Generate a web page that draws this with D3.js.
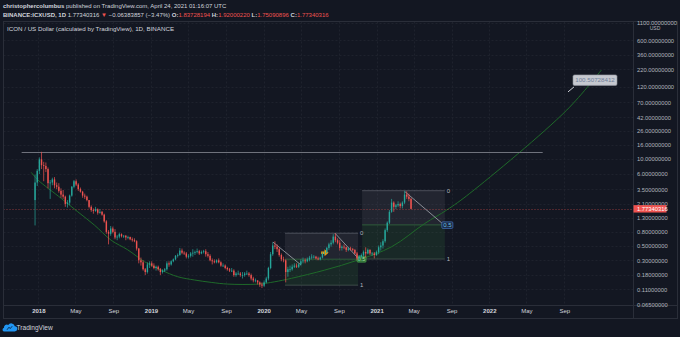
<!DOCTYPE html>
<html>
<head>
<meta charset="utf-8">
<script src="https://cdn.jsdelivr.net/npm/d3@7"></script>
<style>
  html, body { margin: 0; padding: 0; background: #131722; }
  svg { display: block; font-family: "Liberation Sans", Arial, sans-serif; }
</style>
</head>
<body>
<svg id="chart" width="680" height="337"></svg>
<script>
// ---------------- data: ICX/USD, weekly candles (Mon-start) ----------------
const firstWeek = "2017-12-18";
const firstOpen = 2.4;

const weekHigh = [
  5.8, 7.0,
  // 2018
  10.5, 12.7, 9.0, 8.8, 7.4,
  4.8, 5.2, 5.3, 4.4,
  4.3, 3.6, 3.4, 2.8,
  2.4, 2.9, 3.9, 4.8, 4.9,
  4.3, 3.7, 3.3, 3.0,
  2.8, 2.4, 2.0, 1.8,
  1.9, 1.8, 1.75, 1.65, 1.5,
  1.2, 0.85, 0.98, 0.96,
  0.88, 0.72, 0.78, 0.76,
  0.72, 0.72, 0.7, 0.68, 0.66,
  0.64, 0.6, 0.46, 0.33,
  0.3, 0.23, 0.28, 0.29, 0.29,
  // 2019
  0.27, 0.25, 0.25, 0.23,
  0.22, 0.23, 0.29, 0.29,
  0.3, 0.32, 0.36, 0.38,
  0.46, 0.45, 0.41, 0.4, 0.37,
  0.4, 0.44, 0.42, 0.45,
  0.43, 0.42, 0.43, 0.44,
  0.4, 0.37, 0.32, 0.31, 0.31,
  0.32, 0.29, 0.27, 0.26,
  0.24, 0.23, 0.23, 0.22, 0.2,
  0.21, 0.2, 0.2, 0.2,
  0.21, 0.2, 0.19, 0.17,
  0.16, 0.15, 0.145, 0.14, 0.15,
  // 2020
  0.17, 0.24, 0.4, 0.56,
  0.58, 0.52, 0.46, 0.38,
  0.34, 0.31, 0.24, 0.25, 0.26,
  0.27, 0.27, 0.27, 0.31,
  0.33, 0.32, 0.33, 0.35,
  0.37, 0.36, 0.35, 0.34, 0.34,
  0.4, 0.42, 0.48, 0.55,
  0.6, 0.74, 0.76, 0.64, 0.6,
  0.5, 0.52, 0.48, 0.47,
  0.48, 0.46, 0.44, 0.4,
  0.36, 0.38, 0.42, 0.47, 0.45,
  0.44, 0.4, 0.4, 0.42,
  // 2021
  0.5, 0.56, 0.62, 0.9,
  1.15, 1.7, 2.5, 2.3,
  2.1, 2.3, 2.2, 2.3, 3.3,
  3.25, 3.0, 2.6
];

const weekLow = [
  1.0, 3.9,
  // 2018
  5.9, 7.0, 4.6, 6.3, 3.6,
  2.5, 4.0, 3.6, 3.5,
  3.1, 2.6, 2.5, 1.9,
  1.85, 2.0, 2.7, 3.6, 3.9,
  3.3, 3.1, 2.6, 2.5,
  2.3, 1.8, 1.6, 1.5,
  1.6, 1.45, 1.5, 1.4, 1.1,
  0.75, 0.52, 0.7, 0.76,
  0.62, 0.6, 0.64, 0.66,
  0.65, 0.6, 0.62, 0.6, 0.57,
  0.56, 0.42, 0.27, 0.25,
  0.21, 0.18, 0.19, 0.23, 0.24,
  // 2019
  0.22, 0.21, 0.21, 0.18,
  0.19, 0.2, 0.21, 0.24,
  0.25, 0.28, 0.3, 0.33,
  0.35, 0.37, 0.36, 0.32, 0.32,
  0.33, 0.34, 0.36, 0.38,
  0.36, 0.37, 0.38, 0.34,
  0.33, 0.29, 0.26, 0.27, 0.27,
  0.27, 0.24, 0.24, 0.22,
  0.21, 0.2, 0.2, 0.17, 0.17,
  0.18, 0.17, 0.16, 0.17,
  0.18, 0.17, 0.15, 0.14,
  0.14, 0.13, 0.12, 0.115, 0.12,
  // 2020
  0.135, 0.15, 0.22, 0.35,
  0.44, 0.4, 0.34, 0.29,
  0.28, 0.14, 0.17, 0.2, 0.21,
  0.23, 0.23, 0.23, 0.25,
  0.27, 0.27, 0.28, 0.29,
  0.31, 0.32, 0.31, 0.3, 0.3,
  0.32, 0.36, 0.38, 0.43,
  0.48, 0.52, 0.56, 0.52, 0.42,
  0.42, 0.44, 0.4, 0.41,
  0.42, 0.41, 0.37, 0.3,
  0.29, 0.32, 0.34, 0.33, 0.37,
  0.36, 0.35, 0.32, 0.35,
  // 2021
  0.37, 0.42, 0.45, 0.55,
  0.8, 1.05, 1.55, 1.6,
  1.75, 1.9, 1.8, 1.8, 2.1,
  2.5, 2.3, 1.75
];

const weekClose = [
  4.4, 6.6,
  // 2018
  9.8, 8.0, 7.8, 7.0, 4.3,
  4.4, 4.9, 4.0, 3.8,
  3.3, 2.9, 2.7, 2.1,
  2.2, 2.8, 3.8, 4.6, 4.1,
  3.5, 3.2, 2.8, 2.7,
  2.4, 1.9, 1.7, 1.65,
  1.75, 1.55, 1.6, 1.45, 1.15,
  0.8, 0.75, 0.9, 0.8,
  0.66, 0.68, 0.74, 0.69,
  0.7, 0.66, 0.67, 0.62, 0.6,
  0.58, 0.45, 0.3, 0.28,
  0.22, 0.2, 0.26, 0.27, 0.25,
  // 2019
  0.23, 0.24, 0.22, 0.2,
  0.21, 0.22, 0.27, 0.26,
  0.29, 0.31, 0.35, 0.36,
  0.42, 0.39, 0.38, 0.34, 0.35,
  0.38, 0.39, 0.4, 0.41,
  0.38, 0.4, 0.41, 0.37,
  0.35, 0.3, 0.29, 0.28, 0.3,
  0.28, 0.25, 0.25, 0.23,
  0.22, 0.21, 0.21, 0.18, 0.19,
  0.19, 0.18, 0.18, 0.19,
  0.19, 0.18, 0.16, 0.15,
  0.15, 0.14, 0.13, 0.125, 0.14,
  // 2020
  0.16, 0.23, 0.37, 0.5,
  0.48, 0.44, 0.36, 0.31,
  0.3, 0.2, 0.22, 0.22, 0.24,
  0.25, 0.24, 0.26, 0.29,
  0.3, 0.29, 0.31, 0.33,
  0.34, 0.34, 0.32, 0.31, 0.33,
  0.38, 0.39, 0.46, 0.52,
  0.55, 0.68, 0.6, 0.55, 0.46,
  0.48, 0.47, 0.43, 0.45,
  0.44, 0.43, 0.38, 0.32,
  0.34, 0.36, 0.4, 0.38, 0.43,
  0.38, 0.38, 0.36, 0.4,
  // 2021
  0.47, 0.5, 0.58, 0.85,
  1.1, 1.6, 2.2, 1.9,
  2.0, 2.1, 1.95, 2.2, 2.9,
  2.7, 2.5, 1.77340316
];

const lastPrice = 1.77340316;
const lastChange = "\u22120.06383857 (\u22123.47%)";
const dayLabels = ["O:", "H:", "L:", "C:"];
const dayValues = ["1.83728194", "1.92000220", "1.75090896", "1.77340316"];

// axis ticks
const priceTicks = [1100, 600, 360, 220, 120, 70, 42, 26, 16, 10, 6, 3.5, 2.1, 1.3, 0.8, 0.5, 0.3, 0.18, 0.11, 0.065];
const timeTickDates = ["2018-01-01", "2018-05-01", "2018-09-01", "2019-01-01", "2019-05-01", "2019-09-01",
  "2020-01-01", "2020-05-01", "2020-09-01", "2021-01-01", "2021-05-01", "2021-09-01",
  "2022-01-01", "2022-05-01", "2022-09-01"];
const timeTickLabels = ["2018", "May", "Sep", "2019", "May", "Sep", "2020", "May", "Sep",
  "2021", "May", "Sep", "2022", "May", "Sep"];

// drawing anchors (date, price)
const arcDates = ["2017-12-09", "2017-12-31", "2018-03-16", "2018-05-09", "2018-07-02", "2018-08-25",
  "2018-10-18", "2018-12-11", "2019-02-03", "2019-03-29", "2019-05-22", "2019-07-15", "2019-09-07",
  "2019-12-14", "2020-02-06", "2020-03-31", "2020-07-17", "2020-11-02", "2021-02-19", "2021-06-06",
  "2021-08-16", "2021-10-30", "2022-09-09", "2022-12-30"];
const arcPrices = [6.25, 4.8, 2.55, 1.6, 1.01, 0.6, 0.43, 0.286, 0.214, 0.17, 0.152, 0.14, 0.132,
  0.132, 0.143, 0.161, 0.214, 0.303, 0.48, 1.07, 1.7, 3.03, 53.7, 214];

const resistance = { from: "2017-11-08", to: "2022-06-23", price: 12.7 };
const trendFrom = ["2020-01-31", "2020-08-19", "2021-04-03"];
const trendFromPrice = [0.564, 0.765, 3.2];
const trendTo = ["2020-05-01", "2020-11-05", "2021-08-04"];
const trendToPrice = [0.255, 0.312, 1.05];
const fibFrom = ["2020-03-10", "2020-11-15"];
const fibTo = ["2020-11-02", "2021-08-10"];
const fibTop = [0.765, 3.32];
const fibBottom = [0.127, 0.313];
const arrowDate = "2020-07-17";
const arrowPrice = 0.39;
const targetDate = "2022-09-13";
const targetPrice = 100.50728412;

// ---------------- layout ----------------
const W = 680, H = 337;
const frame = { left: 3.5, top: 21.5, right: 677.5, bottom: 318.5 };
const plotRight = 633.5, axisTop = 305.5;

const parse = d3.utcParse("%Y-%m-%d");
const x = d3.scaleUtc()
  .domain([parse("2018-01-01"), parse("2022-09-01")])
  .range([38.3, 564.3]);
const y = d3.scaleLog()
  .domain([0.065, 1100])
  .range([304.6, 22.6]);

const C = {
  bg: "#131722", grid: "#1e222d", frame: "#2a2e39", text: "#b2b5be", bright: "#d1d4dc",
  up: "#26a69a", down: "#ef5350", draw: "#9598a1", arc: "#1f6a2a", orange: "#ff9800"
};

const svg = d3.select("#chart");
svg.append("rect").attr("width", W).attr("height", H).attr("fill", C.bg);

// clip for plot area
svg.append("defs").append("clipPath").attr("id", "plot")
  .append("rect").attr("x", frame.left).attr("y", frame.top)
  .attr("width", plotRight - frame.left).attr("height", axisTop - frame.top);

// ---------------- grid ----------------
const grid = svg.append("g").attr("clip-path", "url(#plot)");
grid.selectAll("line.h").data(priceTicks).join("line")
  .attr("x1", frame.left).attr("x2", plotRight)
  .attr("y1", d => Math.round(y(d)) + 0.5).attr("y2", d => Math.round(y(d)) + 0.5)
  .attr("stroke", C.grid).attr("stroke-dasharray", "2,2");
grid.selectAll("line.v").data(timeTickDates).join("line")
  .attr("y1", frame.top).attr("y2", axisTop)
  .attr("x1", d => Math.round(x(parse(d))) + 0.5).attr("x2", d => Math.round(x(parse(d))) + 0.5)
  .attr("stroke", C.grid).attr("stroke-dasharray", "2,2");

// ---------------- fib boxes ----------------
const draw = svg.append("g").attr("clip-path", "url(#plot)");
fibFrom.forEach((f, i) => {
  const x0 = x(parse(f)), x1 = x(parse(fibTo[i]));
  const mid = Math.sqrt(fibTop[i] * fibBottom[i]);
  const yTop = y(fibTop[i]), yMid = y(mid), yBot = y(fibBottom[i]);
  draw.append("rect").attr("x", x0).attr("y", yTop).attr("width", x1 - x0).attr("height", yMid - yTop)
    .attr("fill", "rgba(120,123,134,0.15)");
  draw.append("rect").attr("x", x0).attr("y", yMid).attr("width", x1 - x0).attr("height", yBot - yMid)
    .attr("fill", "rgba(76,175,80,0.12)");
  draw.append("line").attr("x1", x0).attr("x2", x1).attr("y1", yTop).attr("y2", yTop)
    .attr("stroke", "rgba(149,152,161,0.4)");
  draw.append("line").attr("x1", x0).attr("x2", x1).attr("y1", yMid).attr("y2", yMid)
    .attr("stroke", "rgba(76,175,80,0.4)");
  draw.append("line").attr("x1", x0).attr("x2", x1).attr("y1", yBot).attr("y2", yBot)
    .attr("stroke", "rgba(120,140,125,0.4)");
  draw.append("text").attr("x", x1 + 2).attr("y", yTop + 2).text("0")
    .attr("fill", C.text).attr("font-size", 6);
  draw.append("text").attr("x", x1 + 2).attr("y", yBot + 2).text("1")
    .attr("fill", C.text).attr("font-size", 6);
});

// ---------------- arc ----------------
const arcLine = d3.line()
  .x(d => x(parse(d[0]))).y(d => y(d[1]))
  .curve(d3.curveCatmullRom.alpha(0.5));
draw.append("path").datum(arcDates.map((d, i) => [d, arcPrices[i]]))
  .attr("d", arcLine).attr("fill", "none").attr("stroke", C.arc).attr("stroke-width", 1);

// ---------------- horizontal level + price line ----------------
draw.append("line")
  .attr("x1", x(parse(resistance.from))).attr("x2", x(parse(resistance.to)))
  .attr("y1", Math.round(y(resistance.price)) + 0.5).attr("y2", Math.round(y(resistance.price)) + 0.5)
  .attr("stroke", "#6f727c").attr("stroke-width", 1);
draw.append("line")
  .attr("x1", frame.left).attr("x2", plotRight)
  .attr("y1", Math.round(y(lastPrice)) + 0.5).attr("y2", Math.round(y(lastPrice)) + 0.5)
  .attr("stroke", "rgba(239,83,80,0.55)").attr("stroke-dasharray", "1,2");

// ---------------- candles ----------------
const start = parse(firstWeek);
const candles = weekClose.map((c, i) => ({
  date: d3.utcDay.offset(start, i * 7),
  open: i === 0 ? firstOpen : weekClose[i - 1],
  high: weekHigh[i], low: weekLow[i], close: c
}));
const cg = svg.append("g").attr("clip-path", "url(#plot)");
const cx = d => x(d3.utcHour.offset(d.date, 84));
cg.selectAll("line.wick").data(candles).join("line")
  .attr("x1", cx).attr("x2", cx)
  .attr("y1", d => y(d.high)).attr("y2", d => y(d.low))
  .attr("stroke", d => d.close >= d.open ? C.up : C.down).attr("stroke-width", 0.7);
cg.selectAll("rect.body").data(candles).join("rect")
  .attr("x", d => cx(d) - 0.7).attr("width", 1.4)
  .attr("y", d => y(Math.max(d.open, d.close)))
  .attr("height", d => Math.max(0.8, Math.abs(y(d.open) - y(d.close))))
  .attr("fill", d => d.close >= d.open ? C.up : C.down);

// ---------------- trend lines ----------------
trendFrom.forEach((f, i) => {
  draw.append("line")
    .attr("x1", x(parse(f))).attr("y1", y(trendFromPrice[i]))
    .attr("x2", x(parse(trendTo[i]))).attr("y2", y(trendToPrice[i]))
    .attr("stroke", C.draw).attr("stroke-width", 0.9);
});

// 0.5 level tags
{
  const m0 = Math.sqrt(fibTop[0] * fibBottom[0]);
  const tx = x(parse(fibTo[0])), ty = y(m0);
  draw.append("rect").attr("x", tx - 1).attr("y", ty - 3).attr("width", 9).attr("height", 6)
    .attr("fill", "#2f6b34").attr("stroke", "#4caf50").attr("stroke-width", 0.6).attr("rx", 1);
  draw.append("text").attr("x", tx + 3.5).attr("y", ty + 2).attr("text-anchor", "middle")
    .attr("fill", "#a5e0a8").attr("font-size", 5.5).text("0.5");
  const m1 = Math.sqrt(fibTop[1] * fibBottom[1]);
  const ux = x(parse(fibTo[1])), uy = y(m1);
  draw.append("rect").attr("x", ux - 3).attr("y", uy - 3).attr("width", 11).attr("height", 6.5)
    .attr("fill", "#1a2640").attr("stroke", "#3f6fb8").attr("stroke-width", 0.8).attr("rx", 1);
  draw.append("text").attr("x", ux + 2.5).attr("y", uy + 2.2).attr("text-anchor", "middle")
    .attr("fill", "#6cc3e0").attr("font-size", 6).text("0.5");
}

// orange arrow marker
{
  const ax = x(parse(arrowDate)), ay = y(arrowPrice);
  draw.append("path")
    .attr("d", `M${ax - 3.6},${ay - 1.3} h3.4 v-2.2 l4,3.5 l-4,3.5 v-2.2 h-3.4 z`)
    .attr("fill", C.orange);
}

// target callout
{
  const px = x(parse(targetDate)), py = y(targetPrice);
  draw.append("line").attr("x1", px).attr("y1", py).attr("x2", px + 6).attr("y2", py - 5)
    .attr("stroke", "#c9ccd3").attr("stroke-width", 1);
  draw.append("rect").attr("x", px + 5).attr("y", py - 17).attr("width", 44).attr("height", 10.5)
    .attr("fill", "#c5c8cf").attr("stroke", "#8f939c").attr("stroke-width", 0.6).attr("rx", 1.5);
  draw.append("text").attr("x", px + 27).attr("y", py - 9.7).attr("text-anchor", "middle")
    .attr("fill", "#6f7e99").attr("font-size", 6.2).text(targetPrice.toFixed(8));
}

// ---------------- frame ----------------
const fr = svg.append("g").attr("fill", "none").attr("stroke", C.frame);
fr.append("rect").attr("x", frame.left).attr("y", frame.top)
  .attr("width", frame.right - frame.left).attr("height", frame.bottom - frame.top);
fr.append("line").attr("x1", plotRight).attr("x2", plotRight).attr("y1", frame.top).attr("y2", frame.bottom);
fr.append("line").attr("x1", frame.left).attr("x2", frame.right).attr("y1", axisTop).attr("y2", axisTop);

// ---------------- axes ----------------
const yAxis = svg.append("g").attr("transform", `translate(${plotRight},0)`)
  .call(d3.axisRight(y).tickValues(priceTicks).tickFormat(d => d.toFixed(8)).tickSize(0).tickPadding(3.5));
yAxis.select(".domain").remove();
yAxis.selectAll("text").attr("fill", C.text).attr("font-size", 5.8)
  .attr("font-family", "\"Liberation Sans\", Arial, sans-serif");
svg.append("text").attr("x", 655).attr("y", 30).attr("text-anchor", "middle")
  .attr("fill", C.text).attr("font-size", 5).text("USD");

// last price tag
{
  const ly = y(lastPrice);
  svg.append("rect").attr("x", plotRight).attr("y", ly - 3.7).attr("width", 33).attr("height", 7.4)
    .attr("fill", C.down);
  svg.append("text").attr("x", plotRight + 3.5).attr("y", ly + 2).attr("fill", "#ffffff")
    .attr("font-size", 5.8).text("1.77340316");
}

const xAxis = svg.append("g").attr("transform", `translate(0,${axisTop})`)
  .call(d3.axisBottom(x).tickValues(timeTickDates.map(parse))
    .tickFormat((d, i) => timeTickLabels[i]).tickSize(0).tickPadding(3.5));
xAxis.select(".domain").remove();
xAxis.selectAll("text").attr("fill", C.bright).attr("font-size", 6)
  .attr("font-weight", (d, i) => /^\d+$/.test(timeTickLabels[i]) ? "bold" : "normal")
  .attr("font-family", "\"Liberation Sans\", Arial, sans-serif");

// ---------------- header ----------------
const h1 = svg.append("text").attr("x", 3).attr("y", 8).attr("font-size", 6).attr("fill", C.bright);
h1.append("tspan").attr("font-weight", "bold").text("christophercolumbus");
h1.append("tspan").text(" published on TradingView.com, April 24, 2021 01:16:07 UTC");

const h2 = svg.append("text").attr("x", 3).attr("y", 17).attr("font-size", 6).attr("fill", C.bright);
h2.append("tspan").attr("font-weight", "bold").text("BINANCE:ICXUSD, 1D");
h2.append("tspan").text(" " + lastPrice.toFixed(8) + " ");
h2.append("tspan").attr("fill", C.down).text("\u25BC");
h2.append("tspan").text(" " + lastChange + " ");
dayLabels.forEach((l, i) => {
  h2.append("tspan").attr("font-weight", "bold").text(l);
  h2.append("tspan").attr("fill", C.down).text(dayValues[i] + (i < 3 ? " " : ""));
});

svg.append("text").attr("x", 7).attr("y", 30.5).attr("font-size", 6.2).attr("fill", C.bright)
  .text("ICON / US Dollar (calculated by TradingView), 1D, BINANCE");

// ---------------- footer logo ----------------
svg.append("path")
  .attr("d", "M4,331.5 h10.5 a2.6,2.6 0 0 0 0.3,-5.2 a3.6,3.6 0 0 0 -6.6,-1.3 a2.8,2.8 0 0 0 -4.2,2.8 a1.9,1.9 0 0 0 0,3.7 z")
  .attr("fill", "#2196f3");
svg.append("path").attr("d", "M7,329.8 l2,-2.6 l1.2,1.4 l2,-2.4").attr("fill", "none")
  .attr("stroke", "#0d1b2e").attr("stroke-width", 0.8);
svg.append("text").attr("x", 16.5).attr("y", 330.3).attr("font-size", 6.6).attr("fill", C.bright)
  .text("TradingView");
</script>
</body>
</html>
